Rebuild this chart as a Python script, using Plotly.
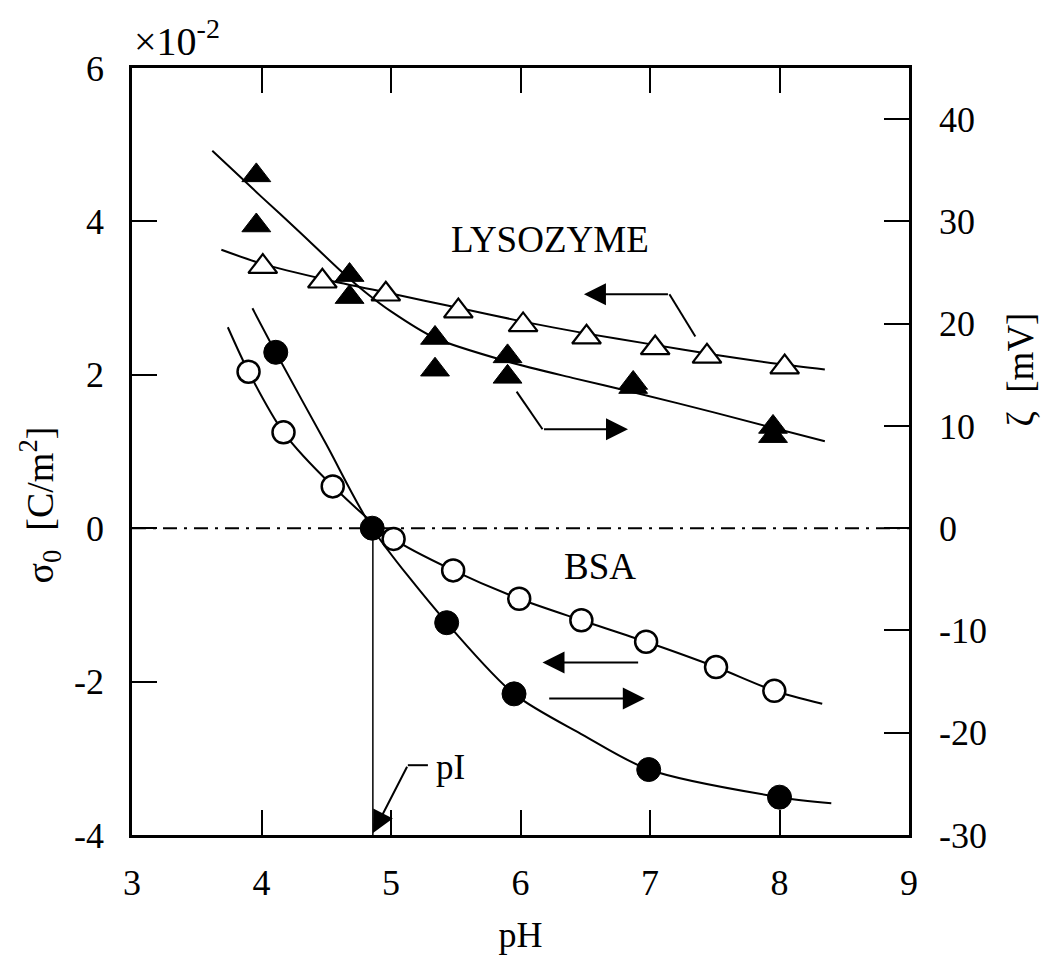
import plotly.graph_objects as go

# ---------------- data ----------------
# LYSOZYME, surface charge density sigma0 (x1e-2 C/m2), open triangles, left axis
lys_sigma_pH = [4.01, 4.47, 4.96, 5.52, 6.02, 6.51, 7.04, 7.44, 8.04]
lys_sigma = [3.41, 3.22, 3.05, 2.83, 2.65, 2.49, 2.35, 2.24, 2.10]
# LYSOZYME, zeta potential (mV), filled triangles, right axis
lys_zeta_pH = [3.96, 3.96, 4.68, 4.68, 5.34, 5.34, 5.90, 5.90, 6.87, 6.87, 7.95, 7.95]
lys_zeta = [34.5, 29.6, 24.75, 22.6, 18.6, 15.5, 16.8, 14.8, 14.2, 13.8, 9.9, 9.0]
# BSA, sigma0, open circles, left axis
bsa_sigma_pH = [3.90, 4.17, 4.55, 5.02, 5.48, 5.99, 6.47, 6.97, 7.51, 7.96]
bsa_sigma = [2.04, 1.25, 0.545, -0.14, -0.55, -0.92, -1.20, -1.48, -1.81, -2.12]
# BSA, zeta, filled circles, right axis
bsa_zeta_pH = [4.11, 4.855, 5.43, 5.95, 6.99, 8.00]
bsa_zeta = [17.2, 0.0, -9.24, -16.2, -23.6, -26.3]

# fitted curves
lys_sigma_fit_pH = [3.69, 4.0, 4.5, 5.0, 5.5, 6.0, 6.5, 7.0, 7.5, 8.0, 8.35]
lys_sigma_fit = [3.63, 3.45, 3.24, 3.06, 2.88, 2.70, 2.54, 2.40, 2.26, 2.14, 2.07]
lys_zeta_fit_pH = [3.62, 4.0, 4.3, 4.6, 4.8, 5.0, 5.34, 5.9, 6.4, 6.87, 7.5, 8.35]
lys_zeta_fit = [36.9, 32.4, 28.9, 25.3, 23.1, 21.2, 18.6, 16.3, 14.7, 13.3, 11.3, 8.5]
bsa_sigma_fit_pH = [3.74, 3.9, 4.17, 4.55, 5.02, 5.48, 5.99, 6.47, 6.97, 7.51, 7.96, 8.33]
bsa_sigma_fit = [2.62, 2.04, 1.25, 0.55, -0.14, -0.55, -0.92, -1.20, -1.48, -1.81, -2.12, -2.29]
bsa_zeta_fit_pH = [3.93, 4.11, 4.5, 4.855, 5.43, 5.95, 6.48, 6.99, 8.0, 8.40]
bsa_zeta_fit = [21.5, 17.2, 8.2, 0.0, -9.24, -16.2, -20.2, -23.6, -26.3, -26.9]

pI = 4.86

x_ticks = [3, 4, 5, 6, 7, 8, 9]
x_ticktext = ["3", "4", "5", "6", "7", "8", "9"]
y_ticks = [-4, -2, 0, 2, 4, 6]
y_ticktext = ["-4", "-2", "0", "2", "4", "6"]
y2_ticks = [-30, -20, -10, 0, 10, 20, 30, 40]
y2_ticktext = ["-30", "-20", "-10", "0", "10", "20", "30", "40"]

FONT = "Liberation Serif"
BLACK = "black"

fig = go.Figure()

line_style = dict(color=BLACK, width=2, shape="spline", smoothing=0.8)
fig.add_trace(go.Scatter(x=lys_sigma_fit_pH, y=lys_sigma_fit, mode="lines", line=line_style, hoverinfo="skip"))
fig.add_trace(go.Scatter(x=bsa_sigma_fit_pH, y=bsa_sigma_fit, mode="lines", line=line_style, hoverinfo="skip"))
fig.add_trace(go.Scatter(x=lys_zeta_fit_pH, y=lys_zeta_fit, mode="lines", line=line_style, yaxis="y2", hoverinfo="skip"))
fig.add_trace(go.Scatter(x=bsa_zeta_fit_pH, y=bsa_zeta_fit, mode="lines", line=line_style, yaxis="y2", hoverinfo="skip"))

# pI vertical line (from sigma 0 down to the axis)
fig.add_trace(go.Scatter(x=[pI, pI], y=[0, -4], mode="lines", line=dict(color=BLACK, width=1.5), hoverinfo="skip"))

fig.add_trace(go.Scatter(x=lys_sigma_pH, y=lys_sigma, mode="markers",
                         marker=dict(symbol="triangle-up", size=25, color="white", line=dict(color=BLACK, width=2.2))))
fig.add_trace(go.Scatter(x=bsa_sigma_pH, y=bsa_sigma, mode="markers",
                         marker=dict(symbol="circle", size=22, color="white", line=dict(color=BLACK, width=2.5))))
fig.add_trace(go.Scatter(x=lys_zeta_pH, y=lys_zeta, mode="markers", yaxis="y2",
                         marker=dict(symbol="triangle-up", size=25, color=BLACK, line=dict(color=BLACK, width=1))))
fig.add_trace(go.Scatter(x=bsa_zeta_pH, y=bsa_zeta, mode="markers", yaxis="y2",
                         marker=dict(symbol="circle", size=24, color=BLACK, line=dict(color=BLACK, width=1))))

axis_common = dict(showline=True, linecolor=BLACK, linewidth=2.5, ticks="inside", ticklen=25,
                   tickwidth=2, tickcolor=BLACK, showgrid=False, zeroline=False,
                   tickfont=dict(family=FONT, size=36, color=BLACK))

fig.update_layout(
    width=1042, height=959,
    margin=dict(l=132, r=133, t=68, b=124),
    paper_bgcolor="white", plot_bgcolor="white",
    showlegend=False,
    font=dict(family=FONT, size=36, color=BLACK),
    xaxis=dict(range=[3, 9], tickvals=x_ticks, ticktext=x_ticktext, mirror="ticks",
               ticklabelstandoff=14,
               title=dict(text="pH", standoff=20, font=dict(family=FONT, size=36)), **axis_common),
    yaxis=dict(range=[-4, 6], tickvals=y_ticks, ticktext=y_ticktext, mirror=False,
               ticklabelstandoff=18, **axis_common),
    yaxis2=dict(range=[-30, 45], tickvals=y2_ticks, ticktext=y2_ticktext, overlaying="y", side="right",
                ticklabelstandoff=20, **axis_common),
)

# axis titles placed as rotated texts
fig.add_annotation(x=-0.118, y=0.3, xref="paper", yref="y", text="σ<sub>0</sub>  [C/m<sup>2</sup>]",
                   xanchor="center", yanchor="middle",
                   textangle=-90, showarrow=False, font=dict(family=FONT, size=38, color=BLACK))
fig.add_annotation(x=1.143, y=2.07, xref="paper", yref="y", text="ζ  [mV]",
                   xanchor="center", yanchor="middle",
                   textangle=-90, showarrow=False, font=dict(family=FONT, size=37, color=BLACK))

# dash-dot zero line
fig.add_shape(type="line", xref="x domain", yref="y", x0=0, x1=1, y0=0, y1=0,
              line=dict(color=BLACK, width=2, dash="14px,7px,3px,7px"), layer="below")

# bent parts of arrows
bent_segments = [
    ((7.15, 3.05), (7.35, 2.50)),
    ((5.97, 1.78), (6.17, 1.29)),
    ((5.285, -3.09), (5.13, -3.09)),
]
for (xa, ya), (xb, yb) in bent_segments:
    fig.add_shape(type="line", xref="x", yref="y", x0=xa, y0=ya, x1=xb, y1=yb,
                  line=dict(color=BLACK, width=2))

# arrows: (tip, tail)
arrows = [
    ((6.49, 3.05), (7.15, 3.05)),
    ((6.83, 1.29), (6.17, 1.29)),
    ((6.17, -1.75), (6.92, -1.75)),
    ((6.96, -2.22), (6.21, -2.22)),
    ((4.861, -3.975), (5.13, -3.09)),
]
for (xt, yt), (xs, ys) in arrows:
    fig.add_annotation(x=xt, y=yt, ax=xs, ay=ys, xref="x", yref="y", axref="x", ayref="y",
                       text="", showarrow=True, arrowhead=2, arrowsize=2.2, arrowwidth=2,
                       arrowcolor=BLACK)

fig.add_annotation(x=6.23, y=3.76, xref="x", yref="y", text="LYSOZYME", showarrow=False,
                   font=dict(family=FONT, size=37, color=BLACK))
fig.add_annotation(x=6.61, y=-0.50, xref="x", yref="y", text="BSA", showarrow=False,
                   font=dict(family=FONT, size=37, color=BLACK))
fig.add_annotation(x=5.33, y=-3.12, xref="x", yref="y", text="pI", showarrow=False,
                   xanchor="left", font=dict(family=FONT, size=35, color=BLACK))
fig.add_annotation(x=0.0, y=1.0, xref="paper", yref="paper", text="×10<sup>-2</sup>",
                   showarrow=False, xanchor="left", yanchor="bottom", yshift=2,
                   font=dict(family=FONT, size=40, color=BLACK))

fig.write_html("out.html")
